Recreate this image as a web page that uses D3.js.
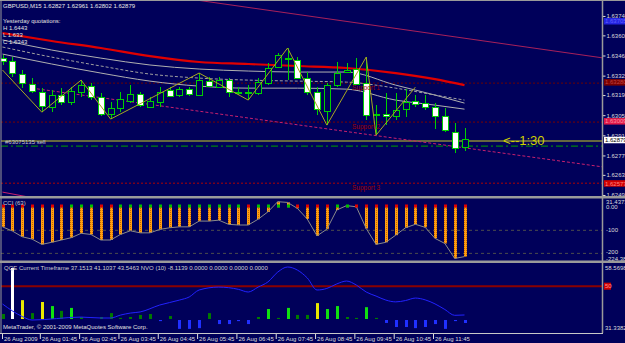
<!DOCTYPE html>
<html lang="en"><head>
<meta charset="utf-8">
<title>GBPUSD,M15</title>
<script src="https://cdn.jsdelivr.net/npm/d3@7"></script>
<style>
  body { margin: 0; background: #00005a; }
  svg text { font-family: "Liberation Sans", "DejaVu Sans", sans-serif; font-size: 6px; }
</style>
</head>
<body>
<svg id="chart" width="625" height="343"></svg>
<script>
// ---- data (GBPUSD M15, 26 Aug 2009) ----
const barOpen  = [1.63447,1.63420,1.63336,1.63266,1.63211,1.63106,1.63190,1.63141,1.63211,1.63252,
                  1.63176,1.63057,1.63099,1.63148,1.63197,1.63106,1.63141,1.63225,1.63190,1.63231,
                  1.63190,1.63287,1.63245,1.63294,1.63204,1.63204,1.63204,1.63273,1.63385,1.63440,
                  1.63433,1.63308,1.63211,1.63078,1.63259,1.63350,1.63371,1.63273,1.63050,1.63057,
                  1.63044,1.63092,1.63148,1.63134,1.63106,1.63044,1.62932,1.62827];
const barHigh  = [1.63468,1.63454,1.63364,1.63308,1.63238,1.63225,1.63238,1.63245,1.63294,1.63273,
                  1.63204,1.63141,1.63211,1.63259,1.63211,1.63176,1.63245,1.63245,1.63245,1.63245,
                  1.63343,1.63315,1.63315,1.63308,1.63245,1.63259,1.63308,1.63413,1.63482,1.63517,
                  1.63454,1.63350,1.63245,1.63273,1.63420,1.63413,1.63447,1.63454,1.63120,1.63204,
                  1.63204,1.63231,1.63190,1.63190,1.63134,1.63099,1.62995,1.62961];
const barLow   = [1.63399,1.63315,1.63238,1.63204,1.63071,1.63071,1.63120,1.63120,1.63176,1.63155,
                  1.63044,1.63023,1.63071,1.63134,1.63106,1.63099,1.63106,1.63176,1.63176,1.63183,
                  1.63183,1.63245,1.63238,1.63176,1.63190,1.63155,1.63190,1.63259,1.63378,1.63294,
                  1.63301,1.63190,1.63050,1.62981,1.63245,1.63343,1.63259,1.63016,1.62911,1.62981,
                  1.63016,1.63037,1.63106,1.63085,1.62953,1.62932,1.62786,1.62802];
const barClose = [1.63420,1.63343,1.63273,1.63218,1.63113,1.63190,1.63141,1.63218,1.63259,1.63176,
                  1.63057,1.63099,1.63162,1.63197,1.63120,1.63148,1.63211,1.63183,1.63231,1.63197,
                  1.63294,1.63252,1.63294,1.63211,1.63211,1.63211,1.63280,1.63378,1.63468,1.63447,
                  1.63308,1.63211,1.63092,1.63259,1.63343,1.63364,1.63266,1.63050,1.63057,1.63044,
                  1.63085,1.63141,1.63127,1.63106,1.63044,1.62946,1.62821,1.62879];

// moving averages, sampled at bar indices
const maIdx   = [0,5,10,15,20,25,30,35,40,44,47];
const maRed   = [1.63621,1.63566,1.63517,1.63461,1.63420,1.63406,1.63392,1.63378,1.63343,1.63301,1.63259];
const maUpper = [1.63573,1.63503,1.63447,1.63399,1.63371,1.63357,1.63350,1.63350,1.63259,1.63190,1.63134];
const maMid   = [1.63524,1.63454,1.63392,1.63336,1.63308,1.63294,1.63287,1.63280,1.63238,1.63190,1.63155];
const maLower = [1.63475,1.63406,1.63343,1.63287,1.63252,1.63238,1.63238,1.63231,1.63155,1.63120,1.63092];

// zigzag turning points
const zigIdx   = [0,4,8,11,20,25,29,33,37,38,42];
const zigPrice = [1.63364,1.63071,1.63294,1.63023,1.63343,1.63155,1.63517,1.62981,1.63454,1.62911,1.63245];

// trend lines [barIndex, price]
const trendUpper = [[20,1.63848],[61,1.63449]];
const trendLower = [[3,1.63238],[61,1.62691]];
const trendLow2  = [[0,1.62515],[3.5,1.62470]];

const supportLevels = [1.63273,1.63002,1.62577];
const supportNames  = ["Support 1","Support 2","Support 3"];
const orderPrice = 1.62870, stopPrice = 1.62835;
const orderLabel = "#63075135 sell";
const timeLeft = "<--1:30";

const priceTicks = [1.63740,1.63605,1.63465,1.63325,1.63190,1.63050,1.62910,1.62770,1.62635,1.62495];
const markerPrices = [1.63705,1.63280,1.63009,1.62879,1.62577];

const header = "GBPUSD,M15  1.62827 1.62961 1.62802 1.62879";
const yesterday = ["Yesterday quotations:","H 1.6443","L 1.633","C 1.6343"];

// CCI(63)
const cciValues = [-85,-103,-128,-138,-161,-152,-142,-132,-113,-118,
                   -142,-142,-118,-102,-111,-111,-96,-89,-85,-85,
                   -60,-60,-56,-74,-77,-77,-52,-20,24,21,
                   -5,-51,-124,-95,-12,7,2,-92,-161,-152,
                   -121,-89,-74,-87,-135,-157,-222,-214];
const cciDir = ("RRRRRRR" + "GGG" + "RR" + "GGGGGGGGGGGGG" + "R" + "GGGG" + "RRRR" + "GG" + "RRRRRRRRRRRR").split("");
const cciLevels = [-100,-200];

// QQE line, sampled at bar indices
const qqeIdx = [0,2,3,8,10,11,12,13,14,16,18,19,20,22,24,25,26,27,28,29,30,31,32,33,34,35,36,37,38,39,40,41,42,43,44,45,46,47];
const qqeVal = [42.05,36.5,34.9,36.2,35.8,35.8,37.1,38.0,38.5,41.6,43.8,45.2,48.3,49.6,48.6,47.4,49.6,51.9,56.3,58.57,
                57.2,53.7,48.3,49.0,51.0,52.3,50.5,47.4,45.6,43.8,43.0,43.6,44.7,43.9,42.1,39.6,37.0,37.15];
// NVO(10) histogram
const nvoValues = [13.5,138,51,16,46,35,22,30,5.4,0,5.4,16,3,5.4,11,13.5,-3,8,-24,-24,
                   -22,16,-11,-11,-3,-11,5.4,27,3,30,11,11,43,27,35,5.4,3,32,3,-8,
                   -19,-19,-22,-19,-11,-24,-3,-8.11];
const nvoKind = ["dg","w","y","dg","y","lg","dg","lg","dg","dg","dg","dg","dg","dg","dg","dg","b","dg","b","b",
                 "b","dg","b","b","b","b","dg","lg","dg","lg","dg","dg","y","lg","lg","dg","dg","lg","dg","b",
                 "b","b","b","b","b","b","b","b"];
const qqeLegend = "QQE Current Timeframe 37.1513 41.1037 43.5463  NVO (10) -8.1139 0.0000 0.0000 0.0000 0.0000";

const timeBars = [0,4,8,12,16,20,24,28,32,36,40,44];
const timeLabels = ["26 Aug 2009","26 Aug 01:45","26 Aug 02:45","26 Aug 03:45","26 Aug 04:45","26 Aug 05:45",
                    "26 Aug 06:45","26 Aug 07:45","26 Aug 08:45","26 Aug 09:45","26 Aug 10:45","26 Aug 11:45"];

// ---- drawing ----
const navy = "#00005a", candleGreen = "#00d000", axisText = "#dcdcdc", frame = "#9a9a9a";
const svg = d3.select("#chart");
svg.append("rect").attr("width", 625).attr("height", 343).attr("fill", navy);

const x  = d3.scaleLinear().domain([0, 47]).range([2.5, 464.5]);
const yP = d3.scaleLinear().domain([1.62488, 1.63851]).range([196, 0]);
const yC = d3.scaleLinear().domain([-224.385, 31.4373]).range([259, 200]);
const yQ = d3.scaleLinear().domain([31.3382, 58.5698]).range([328, 267]);
const yN = d3.scaleLinear().domain([0, 138]).range([319, 268]);

const defs = svg.append("defs");
[["clipMain", 1, 1, 602, 195], ["clipCci", 1, 199, 602, 61], ["clipQqe", 1, 263, 602, 70]].forEach(c => {
  defs.append("clipPath").attr("id", c[0]).append("rect")
    .attr("x", c[1]).attr("y", c[2]).attr("width", c[3]).attr("height", c[4]);
});
const pat = defs.append("pattern").attr("id", "orange").attr("width", 2).attr("height", 2)
  .attr("patternUnits", "userSpaceOnUse");
pat.append("rect").attr("width", 2).attr("height", 2).attr("fill", "#ff9e10");
pat.append("rect").attr("width", 1).attr("height", 1).attr("fill", "#c86800");

// ---------- main price panel ----------
const main = svg.append("g").attr("clip-path", "url(#clipMain)");
const hline = (g, p, color, dash, w) => g.append("line")
  .attr("x1", 1).attr("x2", 603).attr("y1", yP(p)).attr("y2", yP(p))
  .attr("stroke", color).attr("stroke-width", w || 1).attr("stroke-dasharray", dash || null);

const supColors = ["#6a0000", "#7a0000", "#b00000"];
supportLevels.forEach((p, i) => hline(main, p, supColors[i], "2,2"));
hline(main, orderPrice, "#666640", null, 2);
hline(main, stopPrice, "#00a000", "7,3,2,3");

const seg = d3.line().x(d => x(d[0])).y(d => yP(d[1]));
main.append("path").attr("d", seg(trendUpper)).attr("fill", "none").attr("stroke", "#a8205a");
main.append("path").attr("d", seg(trendLower)).attr("fill", "none").attr("stroke", "#c8206e").attr("stroke-dasharray", "3,2");
main.append("path").attr("d", seg(trendLow2)).attr("fill", "none").attr("stroke", "#c8206e");

const maLine = d3.line().curve(d3.curveMonotoneX).x((d, i) => x(maIdx[i])).y(d => yP(d));
main.append("path").attr("d", maLine(maUpper)).attr("fill", "none").attr("stroke", "#b0b0b0");
main.append("path").attr("d", maLine(maMid)).attr("fill", "none").attr("stroke", "#a0a0a0").attr("stroke-dasharray", "3,2");
main.append("path").attr("d", maLine(maLower)).attr("fill", "none").attr("stroke", "#b0b0b0");
main.append("path").attr("d", maLine(maRed)).attr("fill", "none").attr("stroke", "#e00000").attr("stroke-width", 2.2);

// candles
const bars = barOpen.map((o, i) => ({ i, o, h: barHigh[i], l: barLow[i], c: barClose[i] }));
const cg = main.append("g").attr("shape-rendering", "crispEdges");
cg.selectAll("line.wick").data(bars).join("line").attr("class", "wick")
  .attr("x1", d => Math.round(x(d.i)) + 0.5).attr("x2", d => Math.round(x(d.i)) + 0.5)
  .attr("y1", d => yP(d.h)).attr("y2", d => yP(d.l))
  .attr("stroke", candleGreen);
cg.selectAll("rect.body").data(bars).join("rect").attr("class", "body")
  .attr("x", d => Math.round(x(d.i)) - 2.5).attr("width", 6)
  .attr("y", d => yP(Math.max(d.o, d.c)))
  .attr("height", d => Math.max(1, Math.abs(yP(d.o) - yP(d.c))))
  .attr("fill", d => d.c < d.o ? "#ffffff" : navy)
  .attr("stroke", candleGreen);

// zigzag
const zig = d3.line().x((d, i) => x(zigIdx[i])).y(d => yP(d));
main.append("path").attr("d", zig(zigPrice)).attr("fill", "none").attr("stroke", "#a8a820");

// texts on the price panel
supportLevels.forEach((p, i) => main.append("text").attr("x", 352).attr("y", yP(p) + 7)
  .attr("fill", "#a00000").style("font-size", "6.5px").text(supportNames[i]));
main.append("text").attr("x", 5).attr("y", yP(orderPrice) + 3).attr("fill", "#c8c8c8").text(orderLabel);
main.append("text").attr("x", 503).attr("y", yP(orderPrice) + 4).attr("fill", "#d0d000")
  .style("font-size", "13px").text(timeLeft);
svg.append("text").attr("x", 3).attr("y", 8).attr("fill", "#e8e8e8").text(header);
yesterday.forEach((t, i) => svg.append("text").attr("x", 3).attr("y", [23, 30, 37, 44][i])
  .attr("fill", "#e0e0e0").text(t));

// price axis
const pAxis = svg.append("g").attr("transform", "translate(602.5,0)")
  .call(d3.axisRight(yP).tickValues(priceTicks).tickSize(3).tickPadding(1).tickFormat(d3.format(".5f")));
pAxis.select(".domain").remove();
pAxis.selectAll("line").attr("stroke", axisText);
pAxis.selectAll("text").attr("fill", axisText).style("font-size", "6px").style("font-family", "Liberation Sans");

const markerFill = ["#2424e0", "#7a0000", "#e01848", "#ffffff", "#d00000"];
const markerText = ["#6060ff", "#c04040", "#ff90a0", "#000000", "#ff8080"];
markerPrices.forEach((p, i) => {
  svg.append("rect").attr("x", 604).attr("y", yP(p) - 3).attr("width", 21).attr("height", 6.5).attr("fill", markerFill[i]);
  svg.append("text").attr("x", 605).attr("y", yP(p) + 2.3).attr("fill", markerText[i]).text(d3.format(".5f")(p));
});

// ---------- CCI panel ----------
const cci = svg.append("g").attr("clip-path", "url(#clipCci)");
cciLevels.forEach(v => cci.append("line").attr("x1", 1).attr("x2", 603).attr("y1", yC(v)).attr("y2", yC(v))
  .attr("stroke", "#4c4c4c").attr("stroke-dasharray", "3,3"));
cci.selectAll("rect.hist").data(cciValues).join("rect").attr("class", "hist")
  .attr("x", (d, i) => Math.round(x(i)) - 1).attr("width", 3)
  .attr("y", d => Math.min(yC(d), yC(0))).attr("height", d => Math.abs(yC(d) - yC(0)))
  .attr("fill", "url(#orange)");
cci.append("path").attr("d", d3.line().x((d, i) => x(i)).y(d => yC(d))(cciValues))
  .attr("fill", "none").attr("stroke", "#8a8a8a");
cci.selectAll("rect.dot").data(cciDir).join("rect").attr("class", "dot")
  .attr("x", (d, i) => Math.round(x(i)) - 1).attr("y", 204.5).attr("width", 3).attr("height", 3)
  .attr("fill", d => d === "G" ? "#00c000" : "#e00000");
svg.append("text").attr("x", 3).attr("y", 205).attr("fill", "#c8c8c8").text("CCI (63)");
[["31.4373", 31.4373, 3.5], ["0.00", 0, 2], ["-100", -100, 2], ["-200", -200, 0.5], ["-224.385", -224.385, 2]].forEach(t =>
  svg.append("text").attr("x", 606).attr("y", yC(t[1]) + t[2]).attr("fill", axisText).text(t[0]));

// ---------- QQE / NVO panel ----------
const qqe = svg.append("g").attr("clip-path", "url(#clipQqe)");
qqe.append("line").attr("x1", 1).attr("x2", 603).attr("y1", yQ(50)).attr("y2", yQ(50))
  .attr("stroke", "#8a0000").attr("stroke-width", 2);
const nvoColor = { dg: "#007a00", lg: "#10e010", y: "#e8e800", w: "#ffffff", b: "#2030ff" };
qqe.selectAll("rect.nvo").data(nvoValues).join("rect").attr("class", "nvo")
  .attr("x", (d, i) => Math.round(x(i)) - 1).attr("width", 3)
  .attr("y", d => d >= 0 ? yN(d) : yN(0) + 1).attr("height", d => Math.max(0, Math.abs(yN(d) - yN(0))))
  .attr("fill", (d, i) => nvoColor[nvoKind[i]]);
qqe.append("path").attr("d", d3.line().curve(d3.curveMonotoneX).x((d, i) => x(qqeIdx[i])).y(d => yQ(d))(qqeVal))
  .attr("fill", "none").attr("stroke", "#2222ff");
svg.append("text").attr("x", 4).attr("y", 270).attr("fill", "#d0d0d0").text(qqeLegend);
svg.append("text").attr("x", 3).attr("y", 329).attr("fill", "#e0e0e0").text("MetaTrader, \u00a9 2001-2009 MetaQuotes Software Corp.");
svg.append("text").attr("x", 605).attr("y", yQ(58.5698) + 2.5).attr("fill", axisText).text("58.5698");
svg.append("text").attr("x", 605).attr("y", yQ(31.3382) + 2).attr("fill", axisText).text("31.3382");
svg.append("rect").attr("x", 604).attr("y", yQ(50) - 3.5).attr("width", 7).attr("height", 7).attr("fill", "#d00000");
svg.append("text").attr("x", 605).attr("y", yQ(50) + 2.3).attr("fill", "#ff9090").text("50");

// ---------- frame ----------
svg.append("line").attr("x1", 0).attr("x2", 625).attr("y1", 0.5).attr("y2", 0.5).attr("stroke", frame);
svg.append("line").attr("x1", 1).attr("x2", 1).attr("y1", 0).attr("y2", 333).attr("stroke", frame);
svg.append("line").attr("x1", 602.5).attr("x2", 602.5).attr("y1", 0).attr("y2", 333).attr("stroke", frame).attr("stroke-width", 1.5);
[196, 260.5].forEach(yy => svg.append("rect").attr("x", 0).attr("y", yy).attr("width", 625).attr("height", 2.5).attr("fill", frame));
svg.append("line").attr("x1", 0).attr("x2", 603).attr("y1", 333.5).attr("y2", 333.5).attr("stroke", "#c8c8c8");

// time axis
timeBars.forEach((b, i) => {
  const tx = i === 0 ? 2 : x(b) - 2;
  svg.append("line").attr("x1", tx + 0.5).attr("x2", tx + 0.5).attr("y1", 334).attr("y2", 339).attr("stroke", axisText);
  svg.append("text").attr("x", tx + 2).attr("y", 341).attr("fill", axisText).text(timeLabels[i]);
});
</script>
</body></html>
